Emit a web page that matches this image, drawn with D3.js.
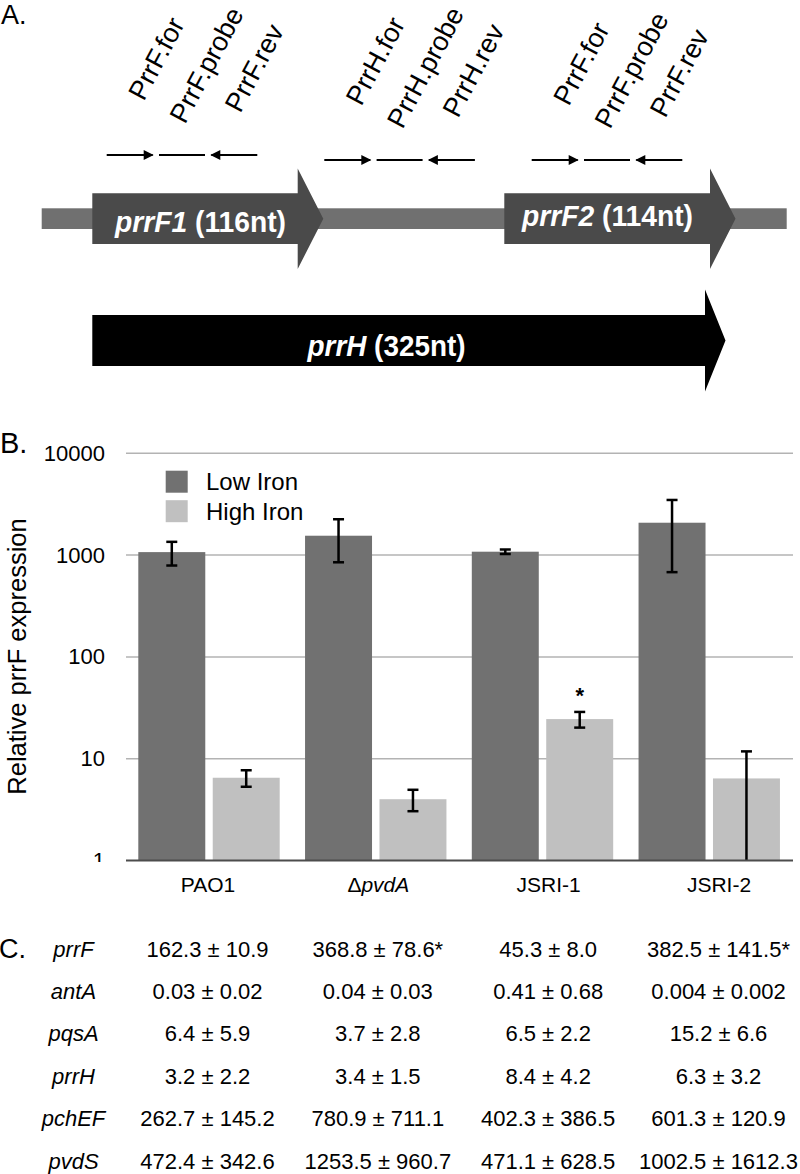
<!DOCTYPE html>
<html>
<head>
<meta charset="utf-8">
<script src="https://cdn.jsdelivr.net/npm/d3@7/dist/d3.min.js"></script>
<style>
  html, body { margin: 0; padding: 0; background: #fff; }
  svg { display: block; font-family: "Liberation Sans", Arial, sans-serif; }
</style>
</head>
<body>
<svg id="fig" width="800" height="1174"></svg>
<script>
// ---------- DATA ----------
const strains = ["PAO1", "ΔpvdA", "JSRI-1", "JSRI-2"];
const conditions = ["Low Iron", "High Iron"];
const lowIron = [1070, 1550, 1080, 2080];
const lowIronErr = [280, 700, 55, 1400];
const highIron = [6.5, 4.0, 24.5, 6.4];
const highIronErr = [1.2, 0.95, 4.3, 5.4];
const highIronSignificant = [false, false, true, false];
const yTicks = [1, 10, 100, 1000, 10000];

const tableGenes = ["prrF", "antA", "pqsA", "prrH", "pchEF", "pvdS"];
const tablePAO1  = ["162.3 ± 10.9", "0.03 ± 0.02", "6.4 ± 5.9", "3.2 ± 2.2", "262.7 ± 145.2", "472.4 ± 342.6"];
const tablePvdA  = ["368.8 ± 78.6*", "0.04 ± 0.03", "3.7 ± 2.8", "3.4 ± 1.5", "780.9 ± 711.1", "1253.5 ± 960.7"];
const tableJSRI1 = ["45.3 ± 8.0", "0.41 ± 0.68", "6.5 ± 2.2", "8.4 ± 4.2", "402.3 ± 386.5", "471.1 ± 628.5"];
const tableJSRI2 = ["382.5 ± 141.5*", "0.004 ± 0.002", "15.2 ± 6.6", "6.3 ± 3.2", "601.3 ± 120.9", "1002.5 ± 1612.3"];

const geneNames = ["prrF1", "prrF2", "prrH"];
const geneLengths = [116, 114, 325];
const primerSets = [
  ["PrrF.for", "PrrF.probe", "PrrF.rev"],
  ["PrrH.for", "PrrH.probe", "PrrH.rev"],
  ["PrrF.for", "PrrF.probe", "PrrF.rev"]
];

// ---------- SETUP ----------
const svg = d3.select("#fig");
svg.append("rect").attr("width", 800).attr("height", 1174).attr("fill", "#fff");

const DARK = "#717171", LIGHT = "#c0c0c0";

// panel letters
svg.append("text").attr("x", 1).attr("y", 23.5).attr("font-size", 27).text("A.");
svg.append("text").attr("x", 0).attr("y", 453).attr("font-size", 29).text("B.");
svg.append("text").attr("x", -1).attr("y", 958).attr("font-size", 27).text("C.");

// ---------- PANEL A: gene diagram ----------
const dia = svg.append("g");
// backbone
dia.append("rect").attr("x", 41.7).attr("y", 208.3).attr("width", 745).attr("height", 20.7).attr("fill", "#707070");

function arrowPath(x0, xBodyEnd, xTip, yc, bodyHalf, headHalf) {
  return `M${x0},${yc - bodyHalf} L${xBodyEnd},${yc - bodyHalf} L${xBodyEnd},${yc - headHalf} L${xTip},${yc} L${xBodyEnd},${yc + headHalf} L${xBodyEnd},${yc + bodyHalf} L${x0},${yc + bodyHalf} Z`;
}
const geneGeom = [
  {x0: 92.3, xb: 297.7, xt: 323.3, yc: 218.7, bh: 25.4, hh: 50.3, fill: "#4a4a4a", tx: 200.5, ty: 232, tw: 171},
  {x0: 504.3, xb: 710, xt: 735.5, yc: 218.7, bh: 25.4, hh: 50.3, fill: "#4a4a4a", tx: 607.5, ty: 225.5, tw: 171},
  {x0: 92.3, xb: 705, xt: 725.5, yc: 340.5, bh: 25.4, hh: 51, fill: "#000000", tx: 386.5, ty: 355.5, tw: 158}
];
geneNames.forEach((name, i) => {
  const g = geneGeom[i];
  dia.append("path").attr("d", arrowPath(g.x0, g.xb, g.xt, g.yc, g.bh, g.hh)).attr("fill", g.fill);
  const t = dia.append("text").attr("x", g.tx - g.tw / 2).attr("y", g.ty)
    .attr("textLength", g.tw).attr("lengthAdjust", "spacingAndGlyphs")
    .attr("font-size", 30).attr("font-weight", "bold").attr("fill", "#fff");
  t.append("tspan").attr("font-style", "italic").text(name);
  t.append("tspan").text(` (${geneLengths[i]}nt)`);
});

// primers
const setStarts = [106.7, 324.3, 531.7];
const setY = [155, 160, 160];
const segW = 46, segStep = 52.3;
const labelOff = [{dx: 14, dy: -53}, {dx: 3, dy: -30}, {dx: 6, dy: -41}];
primerSets.forEach((set, si) => {
  set.forEach((name, pi) => {
    const x0 = setStarts[si] + pi * segStep, x1 = x0 + segW, y = setY[si];
    dia.append("line").attr("x1", x0).attr("x2", x1).attr("y1", y).attr("y2", y)
      .attr("stroke", "#000").attr("stroke-width", 2);
    if (pi === 0) {
      dia.append("path").attr("d", `M${x1 + 1},${y} L${x1 - 9},${y - 5} L${x1 - 9},${y + 5} Z`).attr("fill", "#000");
    } else if (pi === 2) {
      dia.append("path").attr("d", `M${x0 - 1},${y} L${x0 + 9},${y - 5} L${x0 + 9},${y + 5} Z`).attr("fill", "#000");
    }
    const cx = (x0 + x1) / 2 + labelOff[pi].dx, cy = y + labelOff[pi].dy;
    dia.append("text").attr("transform", `translate(${cx},${cy}) rotate(-62)`)
      .attr("font-size", 27).attr("fill", "#000").text(name);
  });
});

// ---------- PANEL B: bar chart ----------
const plotL = 126, plotR = 793;
const y = d3.scaleLog().domain([1, 10000]).range([860.5, 453.3]);
const x0 = d3.scaleBand().domain(strains).range([plotL, plotR]).padding(0);
const x1 = d3.scaleBand().domain(conditions).range([12.3, 153.7]).paddingInner(0.1);
const colX = d3.scalePoint().domain(strains).range([207.5, 718.5]);

// gridlines
svg.append("g").selectAll("line").data(yTicks.filter(d => d > 1)).join("line")
  .attr("x1", plotL).attr("x2", plotR).attr("y1", d => y(d)).attr("y2", d => y(d))
  .attr("stroke", "#b3b3b3").attr("stroke-width", 1.5);

// y axis labels (bottom label partly hidden like the reference)
svg.append("clipPath").attr("id", "yclip").append("rect").attr("x", 0).attr("y", 400).attr("width", 126).attr("height", 462);
const yWrap = svg.append("g").attr("clip-path", "url(#yclip)");
const yAxis = yWrap.append("g").attr("transform", `translate(${plotL},0)`)
  .call(d3.axisLeft(y).tickValues(yTicks).tickFormat(d3.format("d")).tickSize(0).tickPadding(21));
yAxis.select(".domain").remove();
yAxis.selectAll("text").attr("font-size", 22).attr("font-family", "Liberation Sans, Arial, sans-serif").attr("fill", "#000");

// y title
svg.append("text").attr("transform", "translate(26,656.5) rotate(-90)").attr("text-anchor", "middle")
  .attr("font-size", 25.5).attr("fill", "#000").text("Relative prrF expression");

// bars
const series = [
  {cond: "Low Iron", vals: lowIron, errs: lowIronErr, color: DARK},
  {cond: "High Iron", vals: highIron, errs: highIronErr, color: LIGHT}
];
const barsG = svg.append("g");
series.forEach(s => {
  strains.forEach((st, i) => {
    barsG.append("rect")
      .attr("x", x0(st) + x1(s.cond)).attr("width", x1.bandwidth())
      .attr("y", y(s.vals[i])).attr("height", y(1) - y(s.vals[i]))
      .attr("fill", s.color);
  });
});
// error bars
const errG = svg.append("g").attr("stroke", "#000").attr("stroke-width", 2.5);
series.forEach(s => {
  strains.forEach((st, i) => {
    const cx = x0(st) + x1(s.cond) + x1.bandwidth() / 2;
    const hi = s.vals[i] + s.errs[i];
    const lo = Math.max(s.vals[i] - s.errs[i], 1);
    errG.append("line").attr("x1", cx).attr("x2", cx).attr("y1", y(hi)).attr("y2", y(lo));
    errG.append("line").attr("x1", cx - 5.5).attr("x2", cx + 5.5).attr("y1", y(hi)).attr("y2", y(hi));
    if (lo > 1) errG.append("line").attr("x1", cx - 5.5).attr("x2", cx + 5.5).attr("y1", y(lo)).attr("y2", y(lo));
  });
});
// significance asterisk
strains.forEach((st, i) => {
  if (!highIronSignificant[i]) return;
  const cx = x0(st) + x1("High Iron") + x1.bandwidth() / 2;
  svg.append("text").attr("x", cx).attr("y", y(highIron[i] + highIronErr[i]) - 9)
    .attr("text-anchor", "middle").attr("font-size", 22).attr("font-weight", "bold").text("*");
});

// x axis line
svg.append("line").attr("x1", plotL).attr("x2", plotR).attr("y1", y(1)).attr("y2", y(1))
  .attr("stroke", "#4d4d4d").attr("stroke-width", 2);

// x labels
const xAxis = svg.append("g").attr("transform", `translate(0,${y(1)})`)
  .call(d3.axisBottom(colX).tickSize(0).tickPadding(16.3));
xAxis.select(".domain").remove();
xAxis.selectAll("text").attr("font-size", 21).attr("font-family", "Liberation Sans, Arial, sans-serif").attr("fill", "#000")
  .each(function(d) {
    if (d === "ΔpvdA") {
      const t = d3.select(this);
      t.text(null);
      t.append("tspan").text("Δ");
      t.append("tspan").attr("font-style", "italic").text("pvdA");
    }
  });

// legend
const leg = svg.append("g");
conditions.forEach((c, i) => {
  leg.append("rect").attr("x", 165.7).attr("y", 470.7 + i * 29.5).attr("width", 22).attr("height", 22)
    .attr("fill", i === 0 ? DARK : LIGHT);
  leg.append("text").attr("x", 206).attr("y", 490 + i * 29.5).attr("font-size", 24).attr("fill", "#000").text(c);
});

// ---------- PANEL C: table ----------
const rowY = d3.scalePoint().domain(tableGenes).range([956.7, 1168.5]);
const tableCols = [tablePAO1, tablePvdA, tableJSRI1, tableJSRI2];
const tab = svg.append("g").attr("font-size", 22).attr("fill", "#000");
tableGenes.forEach((g, r) => {
  tab.append("text").attr("x", 73.5).attr("y", rowY(g)).attr("text-anchor", "middle")
    .attr("font-style", "italic").text(g);
  tableCols.forEach((col, c) => {
    tab.append("text").attr("x", colX(strains[c])).attr("y", rowY(g)).attr("text-anchor", "middle").text(col[r]);
  });
});
</script>
</body>
</html>
